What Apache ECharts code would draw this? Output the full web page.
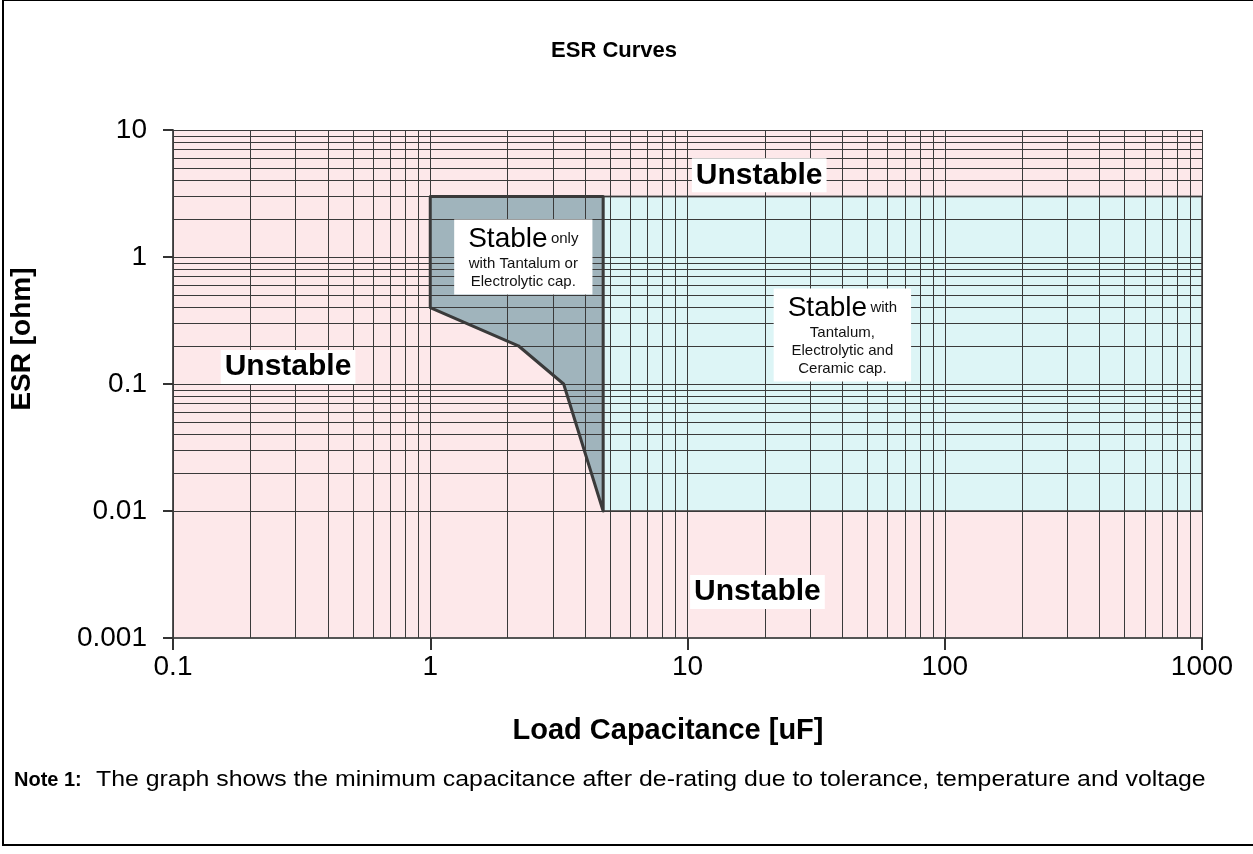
<!DOCTYPE html>
<html>
<head>
<meta charset="utf-8">
<script src="https://cdn.jsdelivr.net/npm/echarts@6/dist/echarts.min.js"></script>
<style>
html, body { margin: 0; background: #fff; }
#esr { width: 1253px; height: 854px; }
</style>
</head>
<body>
<div id="esr"></div>
<script>
// region outlines (capacitance uF, ESR ohm)
const tantalumX = [1, 4.7, 4.7, 3.3, 2.2, 1];
const tantalumY = [3, 3, 0.01, 0.1, 0.2, 0.4];
const ceramicX = [4.7, 1000, 1000, 4.7];
const ceramicY = [3, 3, 0.01, 0.01];

// decades shown on the axes
const capDecades = [0.1, 1, 10, 100];
const esrDecades = [0.001, 0.01, 0.1, 1];

// text boxes placed in data coords
const unstableX = [19, 0.28, 18.7];
const unstableY = [4.4, 0.136, 0.0023];
const stableX = [2.3, 40];
const stableY = [1.0, 0.243];
const stableText = [
  '{big|Stable} {sm|only}\n{sm|with Tantalum or}\n{sm|Electrolytic cap.}',
  '{big|Stable} {sm|with}\n{sm|Tantalum,}\n{sm|Electrolytic and}\n{sm|Ceramic cap.}'
];

const FONT = '"Liberation Sans", Arial, sans-serif';

// log paper lines: 1..9 in each decade
function paperLines(decades, last) {
  let out = [];
  decades.forEach(function (d) {
    for (let k = 1; k < 10; k++) out.push(d * k);
  });
  out.push(last);
  return out;
}
const vLines = paperLines(capDecades, 1000);
const hLines = paperLines(esrDecades, 10);

function polygonSeries(xs, ys, z, style) {
  return {
    type: 'custom',
    z: z,
    silent: true,
    animation: false,
    data: xs.map(function (x, i) { return [x, ys[i]]; }),
    renderItem: function (params, api) {
      if (params.dataIndex !== 0) return null;
      const pts = xs.map(function (x, i) { return api.coord([x, ys[i]]); });
      return { type: 'polygon', shape: { points: pts }, style: style };
    }
  };
}

const chart = echarts.init(document.getElementById('esr'));

const option = {
  animation: false,
  grid: {
    left: 173, right: 51, top: 130, bottom: 216,
    show: true, backgroundColor: '#fde8ea', borderWidth: 0
  },
  xAxis: {
    type: 'log', logBase: 10, min: 0.1, max: 1000,
    axisLine: { show: true, lineStyle: { color: '#555', width: 2 } },
    axisTick: { show: true, length: 12, lineStyle: { color: '#333', width: 2 } },
    axisLabel: {
      margin: 15, fontFamily: FONT, fontSize: 28, color: '#000',
      formatter: function (v) { return String(+v.toPrecision(3)); }
    },
    splitLine: { show: false }
  },
  yAxis: {
    type: 'log', logBase: 10, min: 0.001, max: 10,
    axisLine: { show: true, onZero: false, lineStyle: { color: '#555', width: 2 } },
    axisTick: { show: true, length: 10, lineStyle: { color: '#333', width: 2 } },
    axisLabel: {
      margin: 26, fontFamily: FONT, fontSize: 28, color: '#000',
      formatter: function (v) { return String(+v.toPrecision(3)); }
    },
    splitLine: { show: false }
  },
  graphic: [
    {
      type: 'rect', z: -10, silent: true,
      shape: { x: 3, y: 0, width: 1256, height: 845 },
      style: { fill: null, stroke: '#000', lineWidth: 2 }
    },
    {
      type: 'text', silent: true,
      x: 614, y: 51,
      style: {
        text: 'ESR Curves', fontFamily: FONT, fontSize: 22, fontWeight: 'bold',
        fill: '#000', align: 'center', verticalAlign: 'middle'
      }
    },
    {
      type: 'text', silent: true,
      x: 668, y: 731,
      style: {
        text: 'Load Capacitance [uF]', fontFamily: FONT, fontSize: 29, fontWeight: 'bold',
        fill: '#000', align: 'center', verticalAlign: 'middle'
      }
    },
    {
      type: 'text', silent: true,
      x: 22, y: 339, rotation: Math.PI / 2,
      style: {
        text: 'ESR [ohm]', fontFamily: FONT, fontSize: 28, fontWeight: 'bold',
        fill: '#000', align: 'center', verticalAlign: 'middle'
      }
    },
    {
      type: 'text', silent: true,
      x: 14, y: 780,
      style: {
        text: 'Note 1:', fontFamily: FONT, fontSize: 20, fontWeight: 'bold',
        fill: '#000', verticalAlign: 'middle'
      }
    },
    {
      type: 'text', silent: true,
      x: 96, y: 780, scaleX: 1.13,
      style: {
        text: 'The graph shows the minimum capacitance after de-rating due to tolerance, temperature and voltage',
        fontFamily: FONT, fontSize: 22, fill: '#000', verticalAlign: 'middle'
      }
    }
  ],
  series: [
    polygonSeries(ceramicX, ceramicY, 1, { fill: '#ddf5f6', stroke: null }),
    polygonSeries(tantalumX, tantalumY, 1, { fill: '#a0b4bc', stroke: null }),
    {
      type: 'line',
      z: 2,
      data: [],
      silent: true,
      markLine: {
        silent: true,
        symbol: ['none', 'none'],
        label: { show: false },
        lineStyle: { color: '#3a3a3a', width: 1, type: 'solid', opacity: 1 },
        data: vLines.map(function (v) { return { xAxis: v }; })
          .concat(hLines.map(function (v) { return { yAxis: v }; }))
      }
    },
    polygonSeries(ceramicX, ceramicY, 3, { fill: null, stroke: '#666', lineWidth: 2 }),
    polygonSeries(tantalumX, tantalumY, 4, { fill: null, stroke: '#3a3a3a', lineWidth: 3, lineJoin: 'round' }),
    {
      type: 'scatter',
      z: 5,
      silent: true,
      symbolSize: 0,
      itemStyle: { opacity: 1 },
      data: unstableX.map(function (x, i) { return [x, unstableY[i]]; }),
      label: {
        show: true, position: 'inside', opacity: 1,
        formatter: 'Unstable',
        fontFamily: FONT, fontSize: 30, fontWeight: 'bold', color: '#000',
        backgroundColor: '#fff', padding: [2, 4]
      }
    },
    {
      type: 'scatter',
      z: 5,
      silent: true,
      symbolSize: 0,
      itemStyle: { opacity: 1 },
      data: stableX.map(function (x, i) { return { value: [x, stableY[i]], text: stableText[i] }; }),
      label: {
        show: true, position: 'inside', opacity: 1,
        formatter: function (p) { return p.data.text; },
        backgroundColor: '#fff', padding: [4, 14],
        align: 'center', color: '#000',
        rich: {
          big: { fontFamily: FONT, fontSize: 28, color: '#000', lineHeight: 31 },
          sm: { fontFamily: FONT, fontSize: 15, color: '#111', lineHeight: 18 }
        }
      }
    }
  ]
};

chart.setOption(option);
</script>
</body>
</html>
